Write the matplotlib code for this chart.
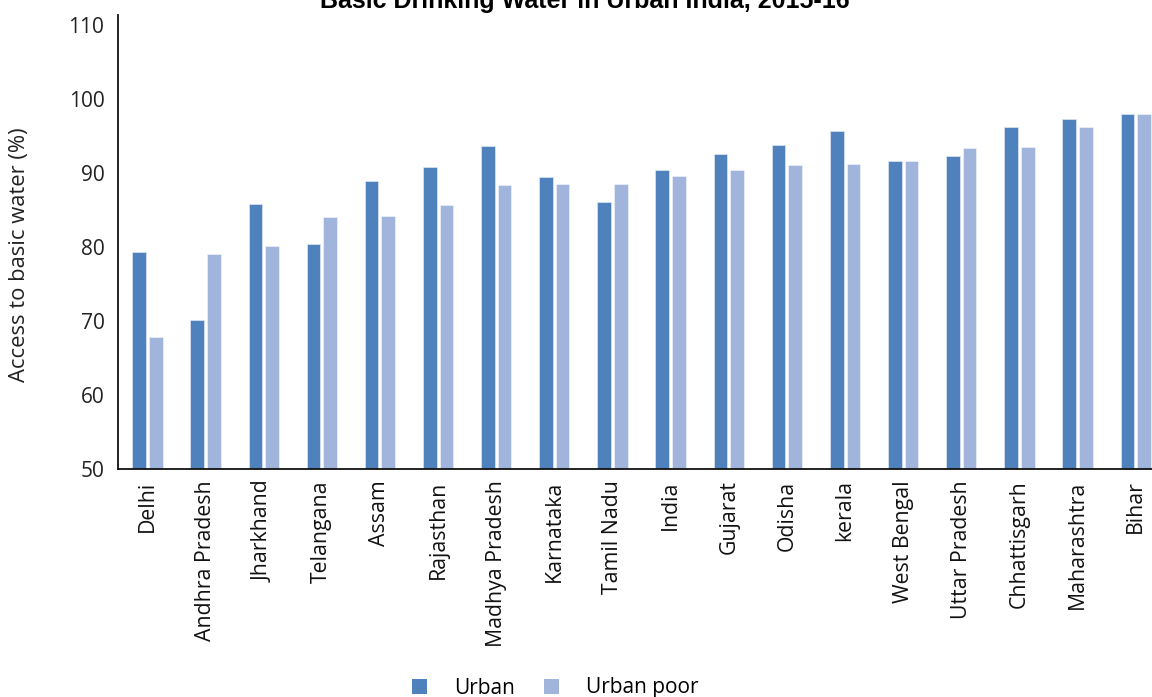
import numpy as np
import matplotlib
matplotlib.use("Agg")
import matplotlib.pyplot as plt
from matplotlib.patches import Patch

states = ["Delhi", "Andhra Pradesh", "Jharkhand", "Telangana", "Assam", "Rajasthan",
          "Madhya Pradesh", "Karnataka", "Tamil Nadu", "India", "Gujarat", "Odisha",
          "kerala", "West Bengal", "Uttar Pradesh", "Chhattisgarh", "Maharashtra", "Bihar"]
urban = [79.3, 70.2, 85.8, 80.4, 88.9, 90.8, 93.6, 89.5, 86.1, 90.4, 92.5, 93.7,
         95.7, 91.6, 92.3, 96.2, 97.3, 97.9]
urban_poor = [67.9, 79.1, 80.1, 84.1, 84.2, 85.7, 88.4, 88.5, 88.5, 89.6, 90.4, 91.0,
              91.2, 91.6, 93.4, 93.5, 96.2, 97.9]
y_ticks = [50, 60, 70, 80, 90, 100, 110]

c_urban = "#4F81BD"
c_poor = "#A1B5DC"
font = ["Open Sans", "DejaVu Sans"]

plt.rcParams["font.family"] = font

fig = plt.figure(figsize=(11.52, 6.97), dpi=100)
ax = fig.add_axes([0.1027, 0.3267, 0.8973, 0.6518])

x = np.arange(len(states))
off = 0.143
w = 0.235
ax.bar(x - off, urban, width=w, bottom=0, color=c_urban, edgecolor="#dfe7f3", linewidth=0.5)
ax.bar(x + off, urban_poor, width=w, bottom=0, color=c_poor, edgecolor="#eef2f9", linewidth=0.5)

ax.set_ylim(50, 111.3)
ax.set_xlim(-0.5, 17.28)
ax.set_yticks(y_ticks)
ax.set_yticklabels([str(t) for t in y_ticks], fontsize=15, color="#222222")
ax.set_xticks(x)
ax.set_xticklabels(states, rotation=90, fontsize=15.3, color="#111111")
ax.tick_params(axis="both", length=0)
ax.tick_params(axis="y", pad=10)
ax.tick_params(axis="x", pad=8)

for s in ["top", "right"]:
    ax.spines[s].set_visible(False)
for s in ["left", "bottom"]:
    ax.spines[s].set_linewidth(1.3)
    ax.spines[s].set_color("#111111")

fig.text(20 / 1152, 1 - 255 / 697, "Access to basic water (%)", rotation=90,
         ha="center", va="center", fontsize=15.8, color="#222222")

fig.text(585 / 1152, 1 - 8 / 697, "Basic Drinking Water in Urban India, 2015-16",
         ha="center", va="baseline", fontsize=18, fontweight="bold",
         family=["Liberation Sans Narrow", "Liberation Sans", "DejaVu Sans"],
         fontstretch="condensed", color="#000000")

handles = [Patch(facecolor=c_urban, label="Urban"),
           Patch(facecolor=c_poor, label="Urban poor")]
fig.legend(handles=handles, loc="center", bbox_to_anchor=(555 / 1152, 1 - 688 / 697),
           ncol=2, frameon=False, fontsize=15, handlelength=0.72, handleheight=0.72,
           handletextpad=1.3, columnspacing=1.4, borderpad=0)

fig.savefig("out.png", dpi=100)
